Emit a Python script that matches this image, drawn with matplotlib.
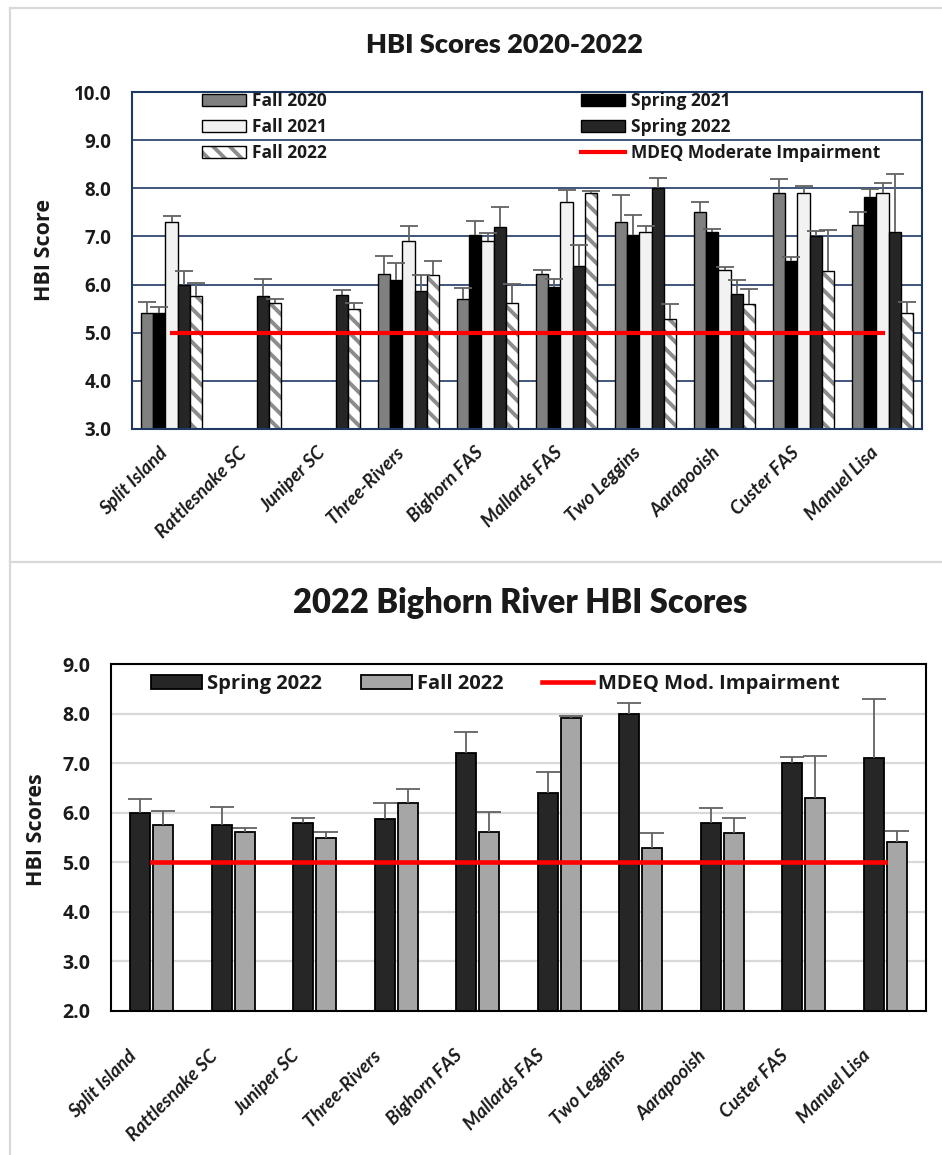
import numpy as np
import matplotlib
matplotlib.use("Agg")
import matplotlib.pyplot as plt
from matplotlib.lines import Line2D
from matplotlib.ticker import FormatStrFormatter, MultipleLocator
from matplotlib.transforms import ScaledTranslation, blended_transform_factory

# ---------------------------------------------------------------- data
sites = ["Split Island", "Rattlesnake SC", "Juniper SC", "Three-Rivers",
         "Bighorn FAS", "Mallards FAS", "Two Leggins", "Aarapooish",
         "Custer FAS", "Manuel Lisa"]
nan = np.nan

fall_2020 = [5.40, nan, nan, 6.22, 5.71, 6.22, 7.31, 7.51, 7.91, 7.23]
fall_2020_err = [0.23, nan, nan, 0.38, 0.21, 0.09, 0.55, 0.20, 0.29, 0.28]

spring_2021 = [5.40, nan, nan, 6.10, 7.02, 5.94, 7.03, 7.10, 6.50, 7.82]
spring_2021_err = [0.14, nan, nan, 0.34, 0.31, 0.18, 0.41, 0.05, 0.07, 0.16]

fall_2021 = [7.31, nan, nan, 6.91, 6.91, 7.71, 7.10, 6.31, 7.91, 7.91]
fall_2021_err = [0.12, nan, nan, 0.31, 0.16, 0.26, 0.12, 0.06, 0.13, 0.21]

spring_2022 = [6.00, 5.76, 5.79, 5.87, 7.20, 6.39, 8.00, 5.80, 7.00, 7.10]
spring_2022_err = [0.28, 0.35, 0.10, 0.32, 0.42, 0.43, 0.21, 0.30, 0.12, 1.19]

fall_2022 = [5.76, 5.61, 5.50, 6.20, 5.61, 7.91, 5.29, 5.60, 6.29, 5.41]
fall_2022_err = [0.27, 0.09, 0.12, 0.28, 0.40, 0.04, 0.31, 0.30, 0.85, 0.22]

mdeq_threshold = [5.0] * len(sites)

# ---------------------------------------------------------------- style
W, H = 942, 1155
TITLE_FONT = "Lato"
LABEL_FONT = "Open Sans"
TEXT = "#1a1a1a"
NAVY = "#1f3864"
ERR = "#626262"
RED = "#ff0000"
plt.rcParams["hatch.linewidth"] = 2.8

fig = plt.figure(figsize=(W / 100, H / 100), dpi=100)
fig.patch.set_facecolor("white")


def px_axes(left, top, right, bottom):
    return fig.add_axes([left / W, 1 - bottom / H, (right - left) / W, (bottom - top) / H])


def bars_with_err(ax, x, vals, errs, width, z=2, cap=6.5, **kw):
    vals = np.asarray(vals, float)
    errs = np.asarray(errs, float)
    b = ax.bar(x, vals, width, zorder=z, **kw)
    eb = ax.errorbar(x, vals, yerr=[np.zeros_like(vals), errs], fmt="none",
                     ecolor=ERR, elinewidth=1.3, capsize=cap, capthick=1.3,
                     zorder=z + 0.5)
    eb[1][0].set_visible(False)  # plus-only error bars
    return b


def style_axis(ax, ymin, ymax, spine_color, grid_color, grid_lw, tick_size,
               label_dx, label_dy, label_size):
    ax.set_xlim(-0.5, len(sites) - 0.5)
    ax.set_ylim(ymin, ymax)
    ax.yaxis.set_major_locator(MultipleLocator(1.0))
    ax.yaxis.set_major_formatter(FormatStrFormatter("%.1f"))
    ax.set_axisbelow(True)
    ax.grid(axis="y", color=grid_color, lw=grid_lw)
    for s in ax.spines.values():
        s.set_color(spine_color)
        s.set_linewidth(1.5)
    ax.tick_params(axis="y", length=0, pad=15, labelsize=tick_size, labelcolor=TEXT)
    for t in ax.get_yticklabels():
        t.set_fontfamily(LABEL_FONT)
        t.set_fontweight("bold")
    ax.set_xticks(np.arange(len(sites)))
    ax.tick_params(axis="x", length=0, labelbottom=False)
    # slanted site names, offset in pixels from each category position
    base = blended_transform_factory(ax.transData, ax.transAxes)
    shift = ScaledTranslation(label_dx / 100, label_dy / 100, fig.dpi_scale_trans)
    for i, name in enumerate(sites):
        ax.text(i, 0, name, transform=base + shift, rotation=45, ha="right",
                va="top", rotation_mode="anchor", fontfamily=TITLE_FONT,
                fontweight="bold", fontstyle="italic", fontsize=label_size,
                color=TEXT)


# ---------------------------------------------------------------- panel frames
frame_kw = dict(color="#d9d9d9", lw=1.6, transform=fig.transFigure)
fig.add_artist(Line2D([10 / W, 10 / W], [0, 1 - 8 / H], **frame_kw))
fig.add_artist(Line2D([10 / W, 1], [1 - 8 / H, 1 - 8 / H], **frame_kw))
fig.add_artist(Line2D([10 / W, 1], [1 - 562 / H, 1 - 562 / H], **frame_kw))

x = np.arange(len(sites))

# ---------------------------------------------------------------- top panel
ax1 = px_axes(132, 92, 922, 429)
w = 0.156
b_f20 = bars_with_err(ax1, x - 2 * w, fall_2020, fall_2020_err, w,
                      color="#808080", edgecolor="black", linewidth=1.0)
b_s21 = bars_with_err(ax1, x - 1 * w, spring_2021, spring_2021_err, w,
                      color="black", edgecolor="black", linewidth=1.0)
b_f21 = bars_with_err(ax1, x, fall_2021, fall_2021_err, w,
                      color="#f2f2f2", edgecolor="black", linewidth=1.0)
b_s22 = bars_with_err(ax1, x + 1 * w, spring_2022, spring_2022_err, w,
                      color="#262626", edgecolor="black", linewidth=1.0)
b_f22h = ax1.bar(x + 2 * w, fall_2022, w, color="white", edgecolor="#8c8c8c",
                 hatch="\\\\", linewidth=0, zorder=2)
b_f22 = bars_with_err(ax1, x + 2 * w, fall_2022, fall_2022_err, w,
                      facecolor="none", edgecolor="black", linewidth=1.0)
line1, = ax1.plot(x, mdeq_threshold, color=RED, lw=3.0, zorder=5)

style_axis(ax1, 3.0, 10.0, NAVY, NAVY, 1.2, 13.5,
           label_dx=-13, label_dy=-15, label_size=13.5)
ax1.set_ylabel("HBI Score", fontfamily=LABEL_FONT, fontweight="bold",
               fontsize=15.5, color=TEXT)
ax1.yaxis.set_label_coords((55 - 132) / 790, (429 - 250) / 337)

leg1 = ax1.legend([b_f20, b_f21, (b_f22h, b_f22), b_s21, b_s22, line1],
                  ["Fall 2020", "Fall 2021", "Fall 2022",
                   "Spring 2021", "Spring 2022", "MDEQ Moderate Impairment"],
                  ncol=2, loc="upper left", bbox_to_anchor=((202 - 132) / 790, 1.0),
                  frameon=False, borderpad=0, borderaxespad=0,
                  handlelength=2.55, handleheight=0.7, handletextpad=0.35,
                  columnspacing=14.6, labelspacing=0.47,
                  prop=dict(family=LABEL_FONT, weight="bold", size=12.5))
for t in leg1.get_texts():
    t.set_color(TEXT)

fig.text(504 / W, 1 - 45 / H, "HBI Scores 2020-2022", ha="center", va="center",
         fontfamily=TITLE_FONT, fontweight="heavy", fontsize=19.5, color=TEXT)

# ---------------------------------------------------------------- bottom panel
ax2 = px_axes(111, 664, 926, 1011)
w2 = 0.245
off = 0.14
b2_s22 = bars_with_err(ax2, x - off, spring_2022, spring_2022_err, w2, cap=8.5,
                       color="#262626", edgecolor="black", linewidth=1.3)
b2_f22 = bars_with_err(ax2, x + off, fall_2022, fall_2022_err, w2, cap=8.5,
                       color="#a6a6a6", edgecolor="black", linewidth=1.3)
line2, = ax2.plot(x, mdeq_threshold, color=RED, lw=3.3, zorder=5)

style_axis(ax2, 2.0, 9.0, "black", "#d9d9d9", 1.6, 14,
           label_dx=-24, label_dy=-36, label_size=13.5)
ax2.set_ylabel("HBI Scores", fontfamily=LABEL_FONT, fontweight="bold",
               fontsize=15.5, color=TEXT)
ax2.yaxis.set_label_coords((47 - 111) / 815, (1011 - 830) / 347)

leg2 = ax2.legend([b2_s22, b2_f22, line2],
                  ["Spring 2022", "Fall 2022", "MDEQ Mod. Impairment"],
                  ncol=3, loc="upper left", bbox_to_anchor=((151 - 111) / 815, 1 - 10 / 347),
                  frameon=False, borderpad=0, borderaxespad=0,
                  handlelength=2.55, handleheight=0.65, handletextpad=0.25,
                  columnspacing=1.9,
                  prop=dict(family=LABEL_FONT, weight="bold", size=14.5))
for t in leg2.get_texts():
    t.set_color(TEXT)

fig.text(520 / W, 1 - 603 / H, "2022 Bighorn River HBI Scores", ha="center",
         va="center", fontfamily=TITLE_FONT, fontweight="heavy", fontsize=23.5,
         color=TEXT)

fig.savefig("out.png", dpi=100, facecolor="white")
